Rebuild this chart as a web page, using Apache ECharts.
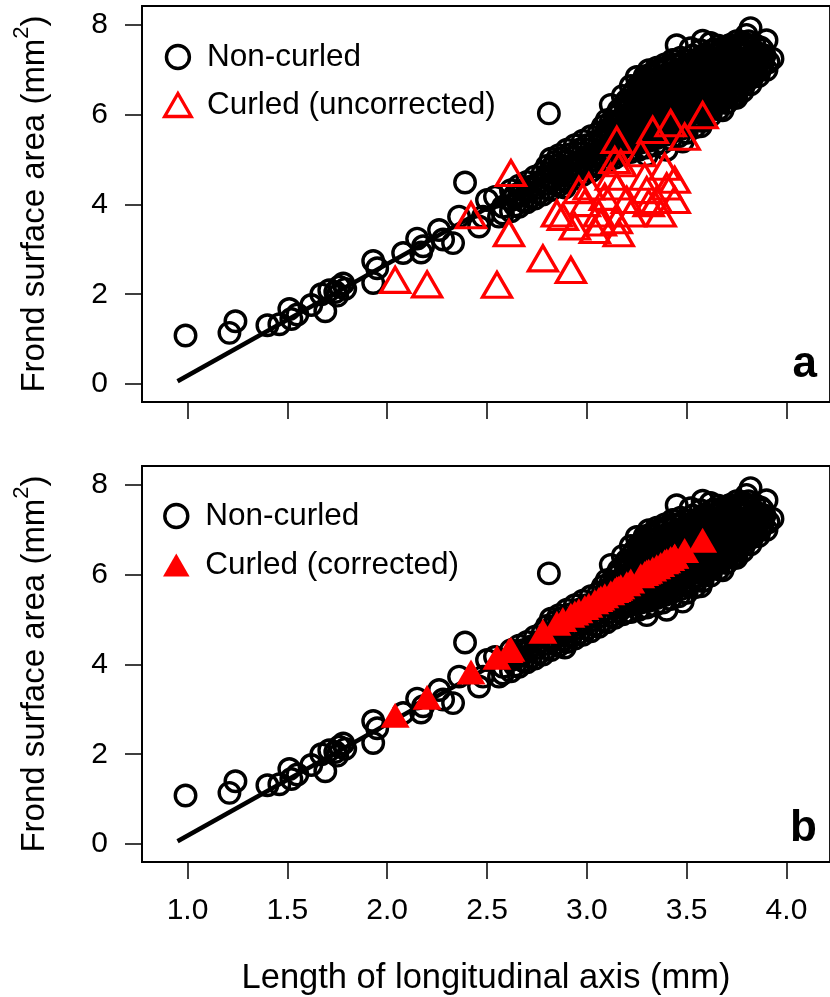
<!DOCTYPE html>
<html>
<head>
<meta charset="utf-8">
<script src="https://cdn.jsdelivr.net/npm/echarts@6/dist/echarts.min.js"></script>
<style>
  html, body { margin: 0; padding: 0; background: #fff; }
  #chart { width: 830px; height: 997px; }
</style>
</head>
<body>
<div id="chart"></div>
<script>
const FONT = '"Liberation Sans", Arial, Helvetica, sans-serif';

// tick positions
const xTicks = [1, 1.5, 2, 2.5, 3, 3.5, 4];
const yTicks = [0, 2, 4, 6, 8];

// fitted line (start / end)
const fitLine = [[0.95, 0.06], [3.90, 7.40]];

// non-curled fronds: sparse lower part
const nonCurledLower = [
  [0.99, 1.08], [1.21, 1.14], [1.24, 1.40], [1.40, 1.31], [1.46, 1.33], [1.51, 1.67], [1.52, 1.45], [1.55, 1.55],
  [1.62, 1.76], [1.67, 2.00], [1.69, 1.62], [1.71, 2.09], [1.74, 2.05], [1.75, 1.97], [1.76, 2.17], [1.78, 2.24], [1.79, 2.12],
  [1.93, 2.74], [1.95, 2.58], [1.93, 2.25], [2.08, 2.92], [2.15, 3.24], [2.17, 2.93], [2.18, 3.07], [2.26, 3.43], [2.28, 3.22],
  [2.33, 3.14], [2.36, 3.73], [2.39, 4.49], [2.46, 3.51], [2.48, 3.73], [2.50, 4.10], [2.54, 4.17], [2.56, 3.73], [2.58, 3.95], [2.58, 3.80]
];

// non-curled fronds: band 2.6 - 3.15
const nonCurledBand = [
  [2.62, 3.85], [2.62, 4.10], [2.62, 4.32], [2.64, 3.98], [2.64, 4.21],
  [2.66, 3.95], [2.66, 4.18], [2.66, 4.42], [2.68, 4.08], [2.68, 4.32],
  [2.70, 4.05], [2.70, 4.27], [2.70, 4.50], [2.72, 4.16], [2.72, 4.40],
  [2.74, 4.13], [2.74, 4.36], [2.74, 4.62], [2.76, 4.25], [2.76, 4.50],
  [2.78, 4.22], [2.78, 4.45], [2.78, 4.72], [2.80, 4.36], [2.80, 4.60], [2.80, 4.86],
  [2.82, 4.32], [2.82, 4.55], [2.82, 4.80], [2.82, 5.02], [2.84, 4.46], [2.84, 4.70], [2.84, 4.95],
  [2.86, 4.42], [2.86, 4.64], [2.86, 4.88], [2.86, 5.10], [2.89, 4.38], [2.88, 4.55], [2.88, 4.80], [2.88, 5.04],
  [2.90, 4.50], [2.90, 4.72], [2.90, 4.97], [2.90, 5.22], [2.92, 4.62], [2.92, 4.86], [2.92, 5.12],
  [2.94, 4.58], [2.94, 4.80], [2.94, 5.06], [2.94, 5.32], [2.96, 4.70], [2.96, 4.96], [2.96, 5.22],
  [2.98, 4.66], [2.98, 4.90], [2.98, 5.15], [2.98, 5.42], [3.00, 4.80], [3.00, 5.06], [3.00, 5.32],
  [3.02, 4.74], [3.02, 4.98], [3.02, 5.24], [3.02, 5.52], [3.04, 4.88], [3.04, 5.14], [3.04, 5.40],
  [3.06, 4.84], [3.06, 5.07], [3.06, 5.32], [3.06, 5.60], [3.08, 4.98], [3.08, 5.22], [3.08, 5.48], [3.08, 5.74],
  [3.10, 4.94], [3.10, 5.16], [3.10, 5.40], [3.10, 5.66], [3.10, 5.88], [3.12, 5.08], [3.12, 5.32], [3.12, 5.58], [3.12, 5.84],
  [3.14, 5.04], [3.14, 5.26], [3.14, 5.50], [3.14, 5.74], [3.14, 5.96], [3.16, 5.18], [3.16, 5.40], [3.16, 5.64], [3.16, 5.88], [3.16, 6.10],
  [3.12, 6.22], [2.81, 6.03]
];

// non-curled fronds: dense cluster 3.2 - 3.95, outer columns
const nonCurledCluster = [
  [3.18, 5.12], [3.19, 5.29], [3.18, 5.45], [3.17, 5.60], [3.19, 5.77], [3.18, 5.93], [3.17, 6.08], [3.19, 6.25], [3.18, 6.42],
  [3.22, 5.17], [3.23, 5.34], [3.21, 5.50], [3.22, 5.67], [3.23, 5.82], [3.22, 5.98], [3.21, 6.15], [3.22, 6.30], [3.23, 6.47], [3.22, 6.64],
  [3.26, 5.22], [3.27, 5.38], [3.25, 5.54], [3.26, 5.71], [3.27, 5.86], [3.26, 6.02], [3.25, 6.18], [3.26, 6.35], [3.27, 6.50], [3.26, 6.67], [3.25, 6.84],
  [3.30, 5.27], [3.31, 5.42], [3.29, 5.58], [3.30, 5.75], [3.31, 5.90], [3.30, 6.06], [3.29, 6.23], [3.30, 6.38], [3.31, 6.55], [3.30, 6.70], [3.29, 6.86], [3.31, 6.99],
  [3.34, 5.32], [3.35, 5.48], [3.33, 5.65], [3.34, 5.80], [3.35, 5.96], [3.34, 6.13], [3.33, 6.28], [3.34, 6.44], [3.35, 6.61], [3.34, 6.76], [3.33, 6.92], [3.35, 7.05],
  [3.38, 5.38], [3.39, 5.55], [3.37, 5.70], [3.38, 5.86], [3.39, 6.03], [3.38, 6.18], [3.37, 6.34], [3.38, 6.51], [3.39, 6.66], [3.38, 6.82], [3.37, 6.98], [3.39, 7.12],
  [3.42, 5.46], [3.43, 5.62], [3.41, 5.78], [3.42, 5.95], [3.43, 6.10], [3.42, 6.26], [3.41, 6.43], [3.42, 6.58], [3.43, 6.74], [3.42, 6.91], [3.41, 7.06], [3.43, 7.22],
  [3.46, 5.52], [3.47, 5.68], [3.45, 5.85], [3.46, 6.00], [3.47, 6.16], [3.46, 6.33], [3.45, 6.48], [3.46, 6.64], [3.47, 6.81], [3.46, 6.96], [3.45, 7.12], [3.47, 7.27],
  [3.50, 5.60], [3.51, 5.77], [3.49, 5.92], [3.50, 6.08], [3.51, 6.25], [3.50, 6.40], [3.49, 6.56], [3.50, 6.73], [3.51, 6.88], [3.50, 7.04], [3.49, 7.20],
  [3.54, 5.72], [3.55, 5.88], [3.53, 6.05], [3.54, 6.20], [3.55, 6.36], [3.54, 6.53], [3.53, 6.68], [3.54, 6.84], [3.55, 7.01], [3.54, 7.16], [3.53, 7.32],
  [3.58, 5.86], [3.59, 6.02], [3.57, 6.18], [3.58, 6.35], [3.59, 6.50], [3.58, 6.66], [3.57, 6.83], [3.58, 6.98], [3.59, 7.14], [3.58, 7.31], [3.57, 7.44],
  [3.62, 5.98], [3.63, 6.15], [3.61, 6.30], [3.62, 6.46], [3.63, 6.63], [3.62, 6.78], [3.61, 6.94], [3.62, 7.11], [3.63, 7.26], [3.62, 7.42],
  [3.66, 6.12], [3.67, 6.28], [3.65, 6.45], [3.66, 6.60], [3.67, 6.76], [3.66, 6.93], [3.65, 7.08], [3.66, 7.24], [3.67, 7.41], [3.66, 7.54],
  [3.70, 6.26], [3.71, 6.42], [3.69, 6.58], [3.70, 6.75], [3.71, 6.90], [3.70, 7.06], [3.69, 7.23], [3.70, 7.38], [3.71, 7.54],
  [3.74, 6.38], [3.75, 6.55], [3.73, 6.70], [3.74, 6.86], [3.75, 7.03], [3.74, 7.18], [3.73, 7.34], [3.74, 7.51], [3.75, 7.64],
  [3.78, 6.52], [3.79, 6.68], [3.77, 6.85], [3.78, 7.00], [3.79, 7.16], [3.78, 7.33], [3.77, 7.48], [3.78, 7.62],
  [3.82, 6.68], [3.83, 6.84], [3.81, 7.01], [3.82, 7.16], [3.83, 7.32], [3.82, 7.49], [3.81, 7.64],
  [3.86, 6.86], [3.87, 7.02], [3.85, 7.18], [3.86, 7.35], [3.87, 7.50],
  [3.90, 7.00], [3.91, 7.17], [3.89, 7.32],
  [3.45, 7.55], [3.58, 7.65], [3.82, 7.93], [3.90, 7.66], [3.93, 7.25], [3.88, 7.45], [3.80, 7.78], [3.62, 7.60], [3.52, 7.48],
  [3.40, 5.22], [3.30, 5.10], [3.57, 5.74], [3.68, 6.10], [3.75, 6.38], [3.48, 5.40], [3.73, 6.40]
];

// non-curled fronds: dense cluster, inner columns
const nonCurledCore = [
  [3.20, 5.36], [3.20, 5.52], [3.20, 5.68], [3.20, 5.84], [3.20, 6.00], [3.20, 6.16], [3.20, 6.32],
  [3.24, 5.42], [3.24, 5.58], [3.24, 5.74], [3.24, 5.90], [3.24, 6.06], [3.24, 6.22], [3.24, 6.38], [3.24, 6.54],
  [3.28, 5.46], [3.28, 5.62], [3.28, 5.78], [3.28, 5.94], [3.28, 6.10], [3.28, 6.26], [3.28, 6.42], [3.28, 6.58], [3.28, 6.74],
  [3.32, 5.50], [3.32, 5.66], [3.32, 5.82], [3.32, 5.98], [3.32, 6.14], [3.32, 6.30], [3.32, 6.46], [3.32, 6.62], [3.32, 6.78], [3.32, 6.90],
  [3.36, 5.55], [3.36, 5.71], [3.36, 5.87], [3.36, 6.03], [3.36, 6.19], [3.36, 6.35], [3.36, 6.51], [3.36, 6.67], [3.36, 6.83], [3.36, 6.97],
  [3.40, 5.62], [3.40, 5.78], [3.40, 5.94], [3.40, 6.10], [3.40, 6.26], [3.40, 6.42], [3.40, 6.58], [3.40, 6.74], [3.40, 6.90], [3.40, 7.04],
  [3.44, 5.68], [3.44, 5.84], [3.44, 6.00], [3.44, 6.16], [3.44, 6.32], [3.44, 6.48], [3.44, 6.64], [3.44, 6.80], [3.44, 6.96], [3.44, 7.12],
  [3.48, 5.76], [3.48, 5.92], [3.48, 6.08], [3.48, 6.24], [3.48, 6.40], [3.48, 6.56], [3.48, 6.72], [3.48, 6.88], [3.48, 7.04], [3.48, 7.14],
  [3.52, 5.85], [3.52, 6.01], [3.52, 6.17], [3.52, 6.33], [3.52, 6.49], [3.52, 6.65], [3.52, 6.81], [3.52, 6.97], [3.52, 7.13],
  [3.56, 5.97], [3.56, 6.13], [3.56, 6.29], [3.56, 6.45], [3.56, 6.61], [3.56, 6.77], [3.56, 6.93], [3.56, 7.09], [3.56, 7.25],
  [3.60, 6.10], [3.60, 6.26], [3.60, 6.42], [3.60, 6.58], [3.60, 6.74], [3.60, 6.90], [3.60, 7.06], [3.60, 7.22], [3.60, 7.34],
  [3.64, 6.22], [3.64, 6.38], [3.64, 6.54], [3.64, 6.70], [3.64, 6.86], [3.64, 7.02], [3.64, 7.18], [3.64, 7.34], [3.64, 7.46],
  [3.68, 6.36], [3.68, 6.52], [3.68, 6.68], [3.68, 6.84], [3.68, 7.00], [3.68, 7.16], [3.68, 7.32], [3.68, 7.46],
  [3.72, 6.48], [3.72, 6.64], [3.72, 6.80], [3.72, 6.96], [3.72, 7.12], [3.72, 7.28], [3.72, 7.44], [3.72, 7.56],
  [3.76, 6.62], [3.76, 6.78], [3.76, 6.94], [3.76, 7.10], [3.76, 7.26], [3.76, 7.42], [3.76, 7.56],
  [3.80, 6.78], [3.80, 6.94], [3.80, 7.10], [3.80, 7.26], [3.80, 7.42], [3.80, 7.56],
  [3.84, 6.94], [3.84, 7.10], [3.84, 7.26], [3.84, 7.42], [3.84, 7.56],
  [3.88, 7.10], [3.88, 7.26]
];

// curled fronds: length, area before and after correction
const curledX = [
  2.04, 2.20, 2.42, 2.55, 2.61, 2.62, 2.78, 2.85, 2.88, 2.92, 2.94, 2.96, 2.99, 3.01, 3.04, 3.06, 3.07,
  3.09, 3.12, 3.14, 3.15, 3.15, 3.15, 3.16, 3.17, 3.20, 3.22, 3.27, 3.29, 3.30, 3.31, 3.33, 3.35,
  3.37, 3.39, 3.40, 3.42, 3.44, 3.44, 3.49, 3.58
];
const curledYUncorrected = [
  2.32, 2.22, 3.76, 2.21, 3.36, 4.70, 2.80, 3.80, 3.72, 2.54, 3.51, 4.32, 4.03, 4.40, 3.43, 3.80, 3.60,
  4.17, 4.62, 4.99, 5.44, 4.40, 3.65, 3.36, 4.92, 4.10, 3.80, 5.14, 4.62, 4.32, 4.03, 5.66, 4.10,
  3.80, 4.84, 4.40, 5.81, 4.10, 4.55, 5.51, 5.99
];
const curledYCorrected = [
  2.87, 3.27, 3.83, 4.16, 4.31, 4.34, 4.74, 4.92, 5.00, 5.10, 5.15, 5.20, 5.27, 5.32, 5.40, 5.45, 5.48,
  5.53, 5.60, 5.65, 5.68, 5.69, 5.67, 5.70, 5.73, 5.80, 5.86, 5.98, 6.03, 6.06, 6.08, 6.13, 6.18,
  6.23, 6.29, 6.31, 6.36, 6.41, 6.42, 6.54, 6.77
];

const nonCurled = nonCurledLower.concat(nonCurledBand, nonCurledCluster, nonCurledCore);
const curledRaw = curledX.map((x, i) => [x, curledYUncorrected[i]]);
const curledCorr = curledX.map((x, i) => [x, curledYCorrected[i]]);

const TRI = 'path://M0,-1L0.866,0.5L-0.866,0.5Z';

const chart = echarts.init(document.getElementById('chart'), null, { renderer: 'canvas' });

const makeX = (i) => ({
  type: 'value',
  gridIndex: i,
  min: 0.772,
  max: 4.218,
  splitLine: { show: false },
  axisLine: { show: true, onZero: false, lineStyle: { color: '#000', width: 1.8 } },
  axisTick: { show: true, length: 17, customValues: xTicks, lineStyle: { color: '#000', width: 1.5 } },
  axisLabel: {
    show: i === 1,
    customValues: xTicks,
    formatter: (v) => v.toFixed(1),
    margin: 34,
    fontSize: 30,
    fontFamily: FONT,
    color: '#000'
  },
  name: i === 1 ? 'Length of longitudinal axis (mm)' : '',
  nameLocation: 'middle',
  nameGap: 99,
  nameTextStyle: { fontSize: 34.5, fontFamily: FONT, color: '#000' }
});

const makeY = (i) => ({
  type: 'value',
  gridIndex: i,
  min: -0.401,
  max: 8.423,
  splitLine: { show: false },
  axisLine: { show: true, onZero: false, lineStyle: { color: '#000', width: 1.8 } },
  axisTick: { show: true, length: 17, customValues: yTicks, lineStyle: { color: '#000', width: 1.5 } },
  axisLabel: { customValues: yTicks, margin: 34, fontSize: 30, fontFamily: FONT, color: '#000' },
  name: '{t|Frond surface area (mm}{s|2}{t|)}',
  nameLocation: 'middle',
  nameRotate: 90,
  nameGap: 91,
  nameTextStyle: {
    fontSize: 33,
    fontFamily: FONT,
    color: '#000',
    rich: {
      t: { fontSize: 33, fontFamily: FONT, color: '#000', verticalAlign: 'bottom' },
      s: { fontSize: 22, fontFamily: FONT, color: '#000', verticalAlign: 'top', padding: [0, 0, 18, 0] }
    }
  }
});

const circleStyle = { color: 'rgba(0,0,0,0)', borderColor: '#000', borderWidth: 3.4, opacity: 1 };
const openTriStyle = { color: 'rgba(0,0,0,0)', borderColor: '#ff0000', borderWidth: 3.3, opacity: 1 };
const fillTriStyle = { color: '#ff0000', borderWidth: 0, opacity: 1 };

const legendBase = {
  orient: 'vertical',
  left: 163,
  padding: 0,
  itemWidth: 48,
  itemHeight: 23,
  symbolKeepAspect: true,
  selectedMode: false,
  textStyle: { fontSize: 31.5, fontFamily: FONT, color: '#000' }
};

chart.setOption({
  animation: false,
  backgroundColor: '#fff',
  grid: [
    { left: 142, top: 6, width: 696, height: 396, show: true, borderColor: '#000', borderWidth: 1.8, backgroundColor: 'transparent' },
    { left: 142, top: 466, width: 696, height: 396, show: true, borderColor: '#000', borderWidth: 1.8, backgroundColor: 'transparent' }
  ],
  xAxis: [makeX(0), makeX(1)],
  yAxis: [makeY(0), makeY(1)],
  legend: [
    Object.assign({}, legendBase, {
      top: 41,
      itemGap: 16,
      data: [
        { name: 'Non-curled', icon: 'circle', itemStyle: circleStyle },
        { name: 'Curled (uncorrected)', icon: TRI, itemStyle: openTriStyle }
      ]
    }),
    Object.assign({}, legendBase, {
      top: 500,
      itemGap: 17,
      data: [
        { name: 'Non-curled', icon: 'circle', itemStyle: circleStyle },
        { name: 'Curled (corrected)', icon: TRI, itemStyle: fillTriStyle }
      ]
    })
  ],
  graphic: [
    { type: 'text', right: 13, top: 343, style: { text: 'a', font: 'bold 44px ' + FONT, fill: '#000' } },
    { type: 'text', right: 13, top: 807, style: { text: 'b', font: 'bold 44px ' + FONT, fill: '#000' } }
  ],
  series: [
    {
      name: 'Non-curled', type: 'scatter', xAxisIndex: 0, yAxisIndex: 0, z: 2,
      symbol: 'circle', symbolSize: 20.5, itemStyle: circleStyle, silent: true, data: nonCurled
    },
    {
      name: 'fit', type: 'line', xAxisIndex: 0, yAxisIndex: 0, z: 3, symbol: 'none', silent: true,
      lineStyle: { color: '#000', width: 4.5 }, data: fitLine
    },
    {
      name: 'Curled (uncorrected)', type: 'scatter', xAxisIndex: 0, yAxisIndex: 0, z: 4,
      symbol: TRI, symbolSize: [29, 25], itemStyle: openTriStyle, silent: true, data: curledRaw
    },
    {
      name: 'Non-curled', type: 'scatter', xAxisIndex: 1, yAxisIndex: 1, z: 2,
      symbol: 'circle', symbolSize: 20.5, itemStyle: circleStyle, silent: true, data: nonCurled
    },
    {
      name: 'fit', type: 'line', xAxisIndex: 1, yAxisIndex: 1, z: 3, symbol: 'none', silent: true,
      lineStyle: { color: '#000', width: 4.5 }, data: fitLine
    },
    {
      name: 'Curled (corrected)', type: 'scatter', xAxisIndex: 1, yAxisIndex: 1, z: 4,
      symbol: TRI, symbolSize: [29, 25], itemStyle: fillTriStyle, silent: true, data: curledCorr
    }
  ]
});
</script>
</body>
</html>
